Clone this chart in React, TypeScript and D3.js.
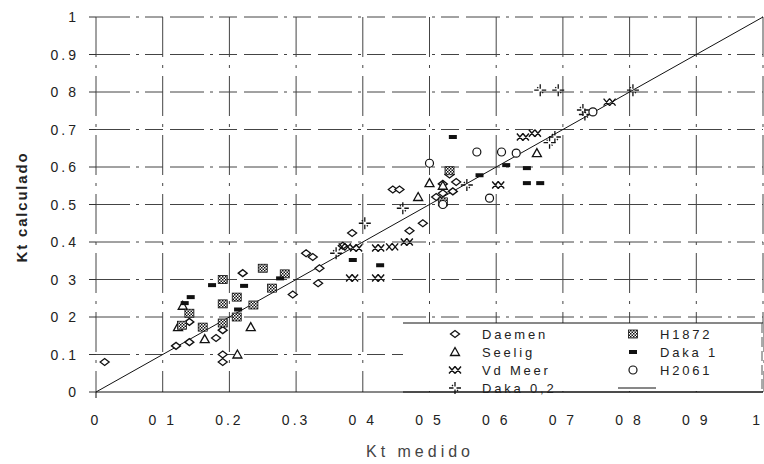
import React from "react";
import * as d3 from "d3";

const daemen: [number, number][] = [
  [0.013, 0.08], [0.12, 0.123], [0.14, 0.133], [0.14, 0.187], [0.18, 0.144], [0.19, 0.165],
  [0.19, 0.1], [0.19, 0.08], [0.22, 0.317], [0.295, 0.26], [0.315, 0.37], [0.325, 0.36],
  [0.335, 0.33], [0.333, 0.29], [0.37, 0.39], [0.384, 0.424], [0.445, 0.54], [0.455, 0.54],
  [0.47, 0.43], [0.49, 0.45], [0.51, 0.52], [0.52, 0.53], [0.53, 0.58], [0.535, 0.535],
  [0.52, 0.555], [0.54, 0.56],
];
const seelig: [number, number][] = [
  [0.123, 0.173], [0.13, 0.23], [0.163, 0.141], [0.212, 0.1], [0.232, 0.173],
  [0.483, 0.52], [0.5, 0.557], [0.52, 0.55], [0.661, 0.637],
];
const vdMeer: [number, number][] = [
  [0.373, 0.387], [0.39, 0.384], [0.423, 0.384], [0.444, 0.387], [0.466, 0.4],
  [0.384, 0.304], [0.423, 0.304], [0.603, 0.552], [0.64, 0.68], [0.658, 0.69], [0.77, 0.773],
];
const daka02: [number, number][] = [
  [0.36, 0.37], [0.403, 0.45], [0.46, 0.49], [0.556, 0.552], [0.68, 0.665], [0.688, 0.68],
  [0.73, 0.752], [0.733, 0.74], [0.666, 0.805], [0.693, 0.805], [0.805, 0.805],
];
const h1872: [number, number][] = [
  [0.129, 0.178], [0.14, 0.21], [0.16, 0.173], [0.19, 0.184], [0.19, 0.235], [0.19, 0.3],
  [0.211, 0.2], [0.211, 0.253], [0.236, 0.232], [0.25, 0.33], [0.264, 0.277], [0.283, 0.315],
  [0.52, 0.507], [0.53, 0.59],
];
const daka1: [number, number][] = [
  [0.133, 0.237], [0.142, 0.253], [0.174, 0.285], [0.222, 0.283], [0.213, 0.22], [0.276, 0.303],
  [0.385, 0.352], [0.426, 0.338], [0.535, 0.68], [0.575, 0.578], [0.615, 0.605], [0.646, 0.597],
  [0.646, 0.557], [0.666, 0.557],
];
const h2061: [number, number][] = [
  [0.5, 0.61], [0.52, 0.5], [0.571, 0.64], [0.608, 0.64], [0.63, 0.637], [0.59, 0.517], [0.745, 0.747],
];

const xTickValues = [0, 0.1, 0.2, 0.3, 0.4, 0.5, 0.6, 0.7, 0.8, 0.9, 1];
const xTickLabels = ["0", "0 1", "0.2", "0.3", "0 4", "0 5", "0 6", "0 7", "0 8", "0 9", "1"];
const yTickValues = [0, 0.1, 0.2, 0.3, 0.4, 0.5, 0.6, 0.7, 0.8, 0.9, 1];
const yTickLabels = ["0", "0.1", "0 2", "0 3", "0.4", "0.5", "0.6", "0.7", "0 8", "0.9", "1"];

const legendLeft = ["Daemen", "Seelig", "Vd Meer", "Daka 0,2"];
const legendRight = ["H1872", "Daka 1", "H2061", ""];

const W = 764, H = 464;
const x = d3.scaleLinear().domain([0, 1]).range([96, 763]);
const y = d3.scaleLinear().domain([0, 1]).range([392, 17]);

const ink = "#111";

function Marker({ type, cx, cy }: { type: string; cx: number; cy: number }) {
  const t = `translate(${cx},${cy})`;
  switch (type) {
    case "Daemen":
      return <path transform={t} d="M-4.5,0 L0,-3.5 L4.5,0 L0,3.5 Z" fill="white" stroke={ink} strokeWidth={1.3} />;
    case "Seelig":
      return <path transform={t} d="M0,-4.5 L4.5,3.5 L-4.5,3.5 Z" fill="white" stroke={ink} strokeWidth={1.3} />;
    case "Vd Meer":
      return <path transform={t} d="M-6,-3.5 L0,3.5 M0,-3.5 L-6,3.5 M0,-3.5 L6,3.5 M6,-3.5 L0,3.5" fill="none" stroke={ink} strokeWidth={1.4} />;
    case "Daka 0,2":
      return <path transform={t} d="M-6,0 H-1.5 M1.5,0 H6 M0,-6 V-1.5 M0,1.5 V6 M-3,-3 L-2,-2 M3,3 L2,2" fill="none" stroke={ink} strokeWidth={1.3} />;
    case "H1872":
      return <rect x={cx - 4.5} y={cy - 4} width={9} height={8} fill="url(#hatch)" stroke={ink} strokeWidth={0.8} />;
    case "Daka 1":
      return <rect x={cx - 4} y={cy - 2} width={8} height={4} fill={ink} />;
    case "H2061":
      return <circle cx={cx} cy={cy} r={4} fill="white" stroke={ink} strokeWidth={1.2} />;
    default:
      return null;
  }
}

const series: { name: string; data: [number, number][] }[] = [
  { name: "Daemen", data: daemen },
  { name: "Seelig", data: seelig },
  { name: "Vd Meer", data: vdMeer },
  { name: "Daka 0,2", data: daka02 },
  { name: "H1872", data: h1872 },
  { name: "Daka 1", data: daka1 },
  { name: "H2061", data: h2061 },
];

export default function App() {
  const gridDash = "34,6,3,6,18,7";
  const diag = d3.line<[number, number]>().x((d) => x(d[0])).y((d) => y(d[1]));
  const legendRows = [334, 352, 370, 388];
  return (
    <svg width={W} height={H} style={{ position: "absolute", left: 0, top: 0, background: "white" }}
      fontFamily="Arial, 'Liberation Sans', sans-serif">
      <defs>
        <pattern id="hatch" width={3} height={3} patternUnits="userSpaceOnUse">
          <rect width={3} height={3} fill="white" />
          <rect width={1.5} height={1.5} fill={ink} />
          <rect x={1.5} y={1.5} width={1.5} height={1.5} fill={ink} />
        </pattern>
      </defs>
      <rect width={W} height={H} fill="white" />
      {yTickValues.filter((v) => v > 0).map((v) => (
        <line key={"h" + v} x1={x(0)} x2={x(1)} y1={y(v)} y2={y(v)} stroke="#444" strokeWidth={1} strokeDasharray={gridDash} />
      ))}
      {xTickValues.map((v) => (
        <line key={"v" + v} x1={x(v)} x2={x(v)} y1={y(1)} y2={y(0)} stroke="#444" strokeWidth={1} strokeDasharray="40,8,3,8" />
      ))}
      {yTickValues.map((v) => (
        <line key={"yt" + v} x1={x(0) - 7} x2={x(0)} y1={y(v)} y2={y(v)} stroke="#333" strokeWidth={1} />
      ))}
      <line x1={x(0)} x2={x(1)} y1={y(0)} y2={y(0)} stroke={ink} strokeWidth={1} />
      <line x1={x(0)} x2={x(0)} y1={y(0)} y2={y(0) + 6} stroke={ink} strokeWidth={1} />
      <path d={diag([[0, 0], [1, 1]]) || ""} stroke={ink} strokeWidth={1} fill="none" />
      {series.map((s) => s.data.map((d, i) => (
        <Marker key={s.name + i} type={s.name} cx={x(d[0])} cy={y(d[1])} />
      )))}
      {xTickValues.map((v, i) => (
        <text key={"xl" + v} x={v === 1 ? x(v) : x(v)} y={425} textAnchor={v === 1 ? "end" : "middle"} fontSize={14} letterSpacing={3} fill="#222">{xTickLabels[i]}</text>
      ))}
      {yTickValues.map((v, i) => (
        <text key={"yl" + v} x={79} y={y(v) + 5} textAnchor="end" fontSize={14} letterSpacing={3} fill="#222">{yTickLabels[i]}</text>
      ))}
      <text transform={`translate(27,${207}) rotate(-90)`} textAnchor="middle" fontSize={15} fontWeight="bold" letterSpacing={1.8} fill="#222">Kt calculado</text>
      <text x={420} y={457} textAnchor="middle" fontSize={16} letterSpacing={4} fill="#444">Kt medido</text>
      <rect x={403} y={323} width={360} height={68} fill="white" />
      <line x1={403} x2={763} y1={323} y2={323} stroke={ink} strokeWidth={1} />
      <line x1={762} x2={762} y1={323} y2={390} stroke="#555" strokeWidth={1} strokeDasharray="10,4" />
      <line x1={403} x2={763} y1={392} y2={392} stroke={ink} strokeWidth={1} />
      {legendLeft.map((n, i) => (
        <g key={n}>
          <Marker type={n} cx={455} cy={legendRows[i]} />
          <text x={482} y={legendRows[i] + 4.5} fontSize={13} letterSpacing={2.8} fill="#222">{n}</text>
        </g>
      ))}
      {legendRight.map((n, i) => (
        <g key={"r" + i}>
          {n ? <Marker type={n} cx={633} cy={legendRows[i]} /> : <line x1={618} x2={656} y1={legendRows[i]} y2={legendRows[i]} stroke={ink} strokeWidth={1} />}
          {n && <text x={660} y={legendRows[i] + 4.5} fontSize={13} letterSpacing={2.8} fill="#222">{n}</text>}
        </g>
      ))}
    </svg>
  );
}
